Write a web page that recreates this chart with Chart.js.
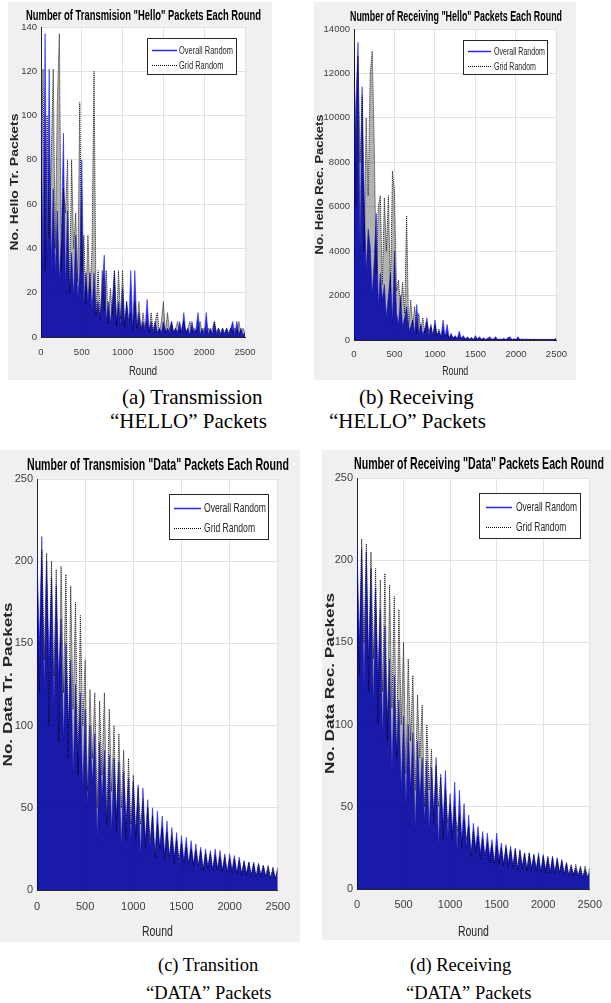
<!DOCTYPE html>
<html>
<head>
<meta charset="utf-8">
<script src="https://cdn.jsdelivr.net/npm/chart.js@4.4.1/dist/chart.umd.min.js"></script>
<style>
body { margin: 0; background: #fff; width: 611px; height: 1003px; position: relative; overflow: hidden; }
canvas { position: absolute; }
.cap { position: absolute; font-family: 'Liberation Serif', 'Times New Roman', serif; color: #000; white-space: nowrap; line-height: 1; }
.top { font-size: 21px; }
.bot { font-size: 18.5px; }
</style>
</head>
<body>
<canvas id="cA" width="264" height="378" style="left:8px;top:2px"></canvas>
<canvas id="cB" width="262" height="378" style="left:314px;top:2px"></canvas>
<canvas id="cC" width="300" height="492" style="left:0px;top:450px"></canvas>
<canvas id="cD" width="289" height="490" style="left:322px;top:450px"></canvas>

<div class="cap top" style="left:122px;top:387px">(a) Transmission</div>
<div class="cap top" style="left:110px;top:411px">“HELLO” Packets</div>
<div class="cap top" style="left:359px;top:387px">(b) Receiving</div>
<div class="cap top" style="left:329px;top:411px">“HELLO” Packets</div>
<div class="cap bot" style="left:158px;top:956px">(c) Transition</div>
<div class="cap bot" style="left:146px;top:984px">“DATA” Packets</div>
<div class="cap bot" style="left:410px;top:956px">(d) Receiving</div>
<div class="cap bot" style="left:406px;top:984px">“DATA” Packets</div>

<script>
// rounds sampled every 25
const rounds = [0,25,50,75,100,125,150,175,200,225,250,275,300,325,350,375,400,425,450,475,
  500,525,550,575,600,625,650,675,700,725,750,775,800,825,850,875,900,925,950,975,
  1000,1025,1050,1075,1100,1125,1150,1175,1200,1225,1250,1275,1300,1325,1350,1375,1400,1425,1450,1475,
  1500,1525,1550,1575,1600,1625,1650,1675,1700,1725,1750,1775,1800,1825,1850,1875,1900,1925,1950,1975,
  2000,2025,2050,2075,2100,2125,2150,2175,2200,2225,2250,2275,2300,2325,2350,2375,2400,2425,2450,2475,2500];

const seriesNames = ['Overall Random', 'Grid Random'];

// (a) transmission hello
const helloTrOverall = [106,30,137,35,121,30,67,28,57,25,
  45,92,22,57,20,38,18,46,17,29,
  80,15,29,16,29,12,29,10,16,8,
  22,37,7,16,6,16,30,6,16,5,
  22,6,16,5,30,4,30,4,11,3,
  7,3,17,3,7,2,7,2,4,2,
  7,2,4,2,7,2,4,2,7,2,
  11,2,4,1,7,2,4,11,1,4,
  1,11,1,4,1,7,1,4,1,4,
  1,4,1,4,7,1,7,1,4,1, 2];
const helloTrGrid = [60,121,30,100,45,80,121,40,106,137,
  30,67,56,80,20,80,40,56,25,106,
  30,46,15,46,20,40,120,10,30,8,
  30,12,30,6,22,10,30,5,30,8,
  30,4,16,7,11,3,16,4,16,3,
  11,4,7,2,11,3,7,11,2,7,
  16,2,11,3,7,2,4,7,2,4,
  7,2,4,7,2,4,2,4,7,2,
  4,2,4,2,4,7,2,4,2,4,
  2,4,2,4,2,4,2,7,2,4, 2];

// (b) receiving hello
const helloRecOverall = [8000,10900,13400,3700,11400,6700,3000,5000,4200,2000,
  3600,5700,1500,3000,1800,2500,1000,2000,3000,800,
  4000,1200,700,2000,600,1000,1500,400,600,900,
  300,1600,300,700,250,500,1000,200,700,150,
  900,200,400,150,900,150,700,100,300,80,
  200,60,400,80,200,50,150,40,100,30,
  200,40,150,30,100,20,80,150,30,60,
  150,20,50,20,80,20,100,150,20,60,
  20,150,20,50,20,50,20,40,20,40,
  20,30,20,30,20,30,20,30,20,30, 100];
const helloRecGrid = [13300,6000,12800,8000,11000,4000,10000,6500,12000,13000,
  8800,3000,6000,6500,2500,6400,4000,6500,2200,7600,
  6700,2200,2700,1500,2600,1200,5600,500,1800,700,
  1500,300,1200,500,1000,300,800,400,600,200,
  700,200,500,100,400,150,300,80,200,100,
  150,50,150,40,100,40,80,30,100,20,
  60,30,60,20,50,20,50,20,40,20,
  40,20,30,20,30,20,30,15,30,15,
  30,10,25,15,35,10,30,15,25,10,
  30,15,25,10,30,15,25,10,30,15, 30];

// (c) transmission data
const dataTrOverall = [205,150,215,120,200,140,190,110,185,130,
  165,90,150,100,140,70,125,80,120,60,
  110,50,100,65,95,30,90,55,85,40,
  82,35,80,45,78,25,72,40,68,30,
  66,35,64,20,62,30,55,25,50,20,
  48,25,45,22,42,18,38,20,35,15,
  33,18,32,15,30,16,28,14,26,12,
  25,14,24,12,25,13,24,12,22,10,
  22,12,21,10,20,10,18,10,17,9,
  17,8,16,9,15,8,14,7,13,7, 12];
const dataTrGrid = [180,120,207,140,205,100,200,130,195,90,
  197,120,192,80,185,110,175,70,167,100,
  140,60,122,80,120,50,115,70,120,40,
  110,60,100,35,95,50,85,30,80,40,
  70,30,62,40,55,25,50,30,45,20,
  40,25,38,18,35,20,33,16,30,18,
  28,15,26,16,25,14,24,15,24,12,
  22,13,22,12,21,12,20,11,20,11,
  19,10,19,10,18,9,17,9,17,9,
  16,8,16,8,15,8,15,7,14,7, 14];

// (d) receiving data
const dataRecOverall = [212,150,207,120,205,140,195,110,183,130,
  170,90,160,100,140,70,130,80,115,60,
  105,50,100,60,95,35,90,55,80,40,
  78,35,74,45,80,25,68,40,72,30,
  58,35,65,22,60,30,52,25,45,20,
  40,25,38,22,35,18,34,20,30,15,
  34,18,28,15,27,16,26,14,25,12,
  24,14,22,12,22,13,21,12,22,10,
  21,12,20,10,20,10,19,10,18,9,
  16,8,14,9,13,8,13,7,12,7, 10];
const dataRecGrid = [190,130,213,150,210,120,205,140,195,100,
  188,120,192,90,185,110,178,80,170,100,
  150,70,140,90,130,60,118,80,112,50,
  100,60,85,40,75,50,70,30,60,40,
  52,30,50,35,45,25,42,30,38,20,
  35,22,32,18,30,20,28,16,27,15,
  26,15,25,14,25,13,24,13,24,12,
  23,12,22,11,22,11,21,11,20,10,
  20,10,19,10,19,9,18,9,17,9,
  16,8,15,8,15,8,14,7,14,7, 13];

const SANS = "'Liberation Sans', Arial, sans-serif";
const NARROW = "'Liberation Sans Narrow', 'Arial Narrow', 'Liberation Sans', sans-serif";

function fitText(ctx, text, x, y, font, width, color, rot) {
  ctx.save();
  ctx.font = font;
  ctx.fillStyle = color;
  ctx.textAlign = 'center';
  ctx.textBaseline = 'middle';
  const w = ctx.measureText(text).width;
  ctx.translate(x, y);
  if (rot) ctx.rotate(rot);
  ctx.scale(width / w, 1);
  ctx.fillText(text, 0, 0);
  ctx.restore();
}

const panelPlugin = {
  id: 'panel',
  beforeDraw(chart, args, p) {
    const ctx = chart.ctx, a = chart.chartArea;
    ctx.save();
    ctx.fillStyle = '#f0f0f0';
    ctx.fillRect(0, 0, chart.width, chart.height);
    ctx.fillStyle = '#ffffff';
    ctx.fillRect(a.left, a.top, a.right - a.left, a.bottom - a.top);
    ctx.restore();
  },
  afterDraw(chart, args, p) {
    const ctx = chart.ctx, a = chart.chartArea;
    const midX = (a.left + a.right) / 2, midY = (a.top + a.bottom) / 2;
    fitText(ctx, p.title, p.titleX, p.titleY, 'bold ' + p.titleSize + 'px ' + SANS, p.titleW, '#000', 0);
    fitText(ctx, p.yLabel, p.yLabelX, midY, 'bold ' + p.yLabelSize + 'px ' + SANS, p.yLabelW, '#262626', -Math.PI / 2);
    fitText(ctx, 'Round', midX, p.xLabelY, p.xLabelSize + 'px ' + SANS, p.xLabelW, '#262626', 0);

    // legend box, matlab style
    const L = p.legend;
    const x0 = Math.round(a.right - L.dx - L.w), y0 = Math.round(a.top + L.dy);
    ctx.save();
    ctx.fillStyle = '#fff';
    ctx.fillRect(x0, y0, L.w, L.h);
    ctx.strokeStyle = '#262626';
    ctx.lineWidth = 1;
    ctx.strokeRect(x0 + 0.5, y0 + 0.5, L.w, L.h);
    const y1 = Math.round(y0 + L.h * 0.32) + 0.5, y2 = Math.round(y0 + L.h * 0.76) + 0.5;
    ctx.strokeStyle = 'rgba(0,0,255,0.85)';
    ctx.lineWidth = 1.5;
    ctx.beginPath(); ctx.moveTo(x0 + L.lx, y1); ctx.lineTo(x0 + L.lx + L.len, y1); ctx.stroke();
    ctx.strokeStyle = '#000';
    ctx.lineWidth = 1;
    ctx.setLineDash([1, 1]);
    ctx.beginPath(); ctx.moveTo(x0 + L.lx, y2); ctx.lineTo(x0 + L.lx + L.len, y2); ctx.stroke();
    ctx.setLineDash([]);
    ctx.font = L.fs + 'px ' + SANS;
    ctx.fillStyle = '#262626';
    ctx.textBaseline = 'middle';
    ctx.textAlign = 'left';
    const sx = L.tw / ctx.measureText(seriesNames[0]).width;
    ctx.translate(x0 + L.tx, 0);
    ctx.scale(sx, 1);
    ctx.fillText(seriesNames[0], 0, y1);
    ctx.fillText(seriesNames[1], 0, y2);
    ctx.restore();
  }
};

const pts = vals => vals.map((v, i) => ({ x: rounds[i], y: v }));

function makePanel(id, overall, grid, p) {
  const cv = document.getElementById(id);
  const W = cv.width, H = cv.height;
  return new Chart(cv, {
    type: 'line',
    data: {
      datasets: [
        {
          label: seriesNames[0], data: pts(overall), order: 1,
          borderColor: 'rgba(20,20,255,0.55)', borderWidth: 1,
          backgroundColor: 'rgba(0,0,240,0.85)', fill: 'origin',
          pointRadius: 0, tension: 0
        },
        {
          label: seriesNames[1], data: pts(grid), order: 0,
          borderColor: 'rgba(0,0,0,0.85)', borderWidth: 1, borderDash: [1, 1],
          backgroundColor: 'rgba(0,0,0,0.3)', fill: 'origin',
          pointRadius: 0, tension: 0
        }
      ]
    },
    options: {
      responsive: false,
      animation: false,
      devicePixelRatio: 1,
      layout: { padding: { top: p.plot.top, right: W - p.plot.right, left: 0, bottom: 0 } },
      plugins: { legend: { display: false }, title: { display: false }, tooltip: { enabled: false }, panel: p },
      scales: {
        x: {
          type: 'linear', min: 0, max: 2500,
          ticks: { stepSize: 500, padding: p.xPad, color: '#404040', font: { family: NARROW, size: p.tickSize }, maxRotation: 0, callback: v => v },
          grid: { color: '#e2e2e2', drawTicks: false },
          border: { display: true, color: '#262626' },
          afterFit: s => { s.height = H - p.plot.bottom; }
        },
        y: {
          min: 0, max: p.ymax,
          ticks: { stepSize: p.ystep, padding: 4, color: '#404040', font: { family: NARROW, size: p.tickSize }, callback: v => v },
          grid: { color: '#e2e2e2', drawTicks: false },
          border: { display: true, color: '#262626' },
          afterFit: s => { s.width = p.plot.left; }
        }
      }
    },
    plugins: [panelPlugin]
  });
}

makePanel('cA', helloTrOverall, helloTrGrid, {
  plot: { left: 33, top: 25, right: 237, bottom: 335 }, ymax: 140, ystep: 20, tickSize: 9.5, xPad: 10,
  title: 'Number of Transmision "Hello" Packets Each Round', titleX: 135.5, titleY: 13.5, titleW: 235, titleSize: 15,
  yLabel: 'No. Hello Tr. Packets', yLabelX: 7, yLabelW: 137, yLabelSize: 11,
  xLabelY: 370, xLabelW: 28, xLabelSize: 12.5,
  legend: { dx: 9, dy: 11, w: 89, h: 36, lx: 5, len: 25, tx: 32, tw: 54, fs: 11 }
});
makePanel('cB', helloRecOverall, helloRecGrid, {
  plot: { left: 40, top: 27, right: 244, bottom: 338 }, ymax: 14000, ystep: 2000, tickSize: 9.5, xPad: 9,
  title: 'Number of Receiving "Hello" Packets Each Round', titleX: 142, titleY: 14.5, titleW: 212, titleSize: 14.5,
  yLabel: 'No. Hello Rec. Packets', yLabelX: 6, yLabelW: 140, yLabelSize: 11,
  xLabelY: 370, xLabelW: 26, xLabelSize: 12.5,
  legend: { dx: 9, dy: 11, w: 84, h: 34, lx: 5, len: 23, tx: 31, tw: 51, fs: 11 }
});
makePanel('cC', dataTrOverall, dataTrGrid, {
  plot: { left: 37, top: 29, right: 279, bottom: 440 }, ymax: 250, ystep: 50, tickSize: 11, xPad: 10,
  title: 'Number of Transmision "Data" Packets Each Round', titleX: 158, titleY: 15, titleW: 262, titleSize: 17,
  yLabel: 'No. Data Tr. Packets', yLabelX: 8, yLabelW: 164, yLabelSize: 13,
  xLabelY: 481.5, xLabelW: 31, xLabelSize: 14.5,
  legend: { dx: 10, dy: 15, w: 99, h: 45, lx: 5, len: 27, tx: 35, tw: 62, fs: 13 }
});
makePanel('cD', dataRecOverall, dataRecGrid, {
  plot: { left: 35, top: 28, right: 279, bottom: 439 }, ymax: 250, ystep: 50, tickSize: 11, xPad: 9,
  title: 'Number of Receiving "Data" Packets Each Round', titleX: 157, titleY: 14.5, titleW: 250, titleSize: 17,
  yLabel: 'No. Data Rec. Packets', yLabelX: 8, yLabelW: 181, yLabelSize: 13,
  xLabelY: 481.5, xLabelW: 31, xLabelSize: 14.5,
  legend: { dx: 10, dy: 15, w: 101, h: 45, lx: 7, len: 26, tx: 37, tw: 61, fs: 13 }
});
</script>
</body>
</html>
